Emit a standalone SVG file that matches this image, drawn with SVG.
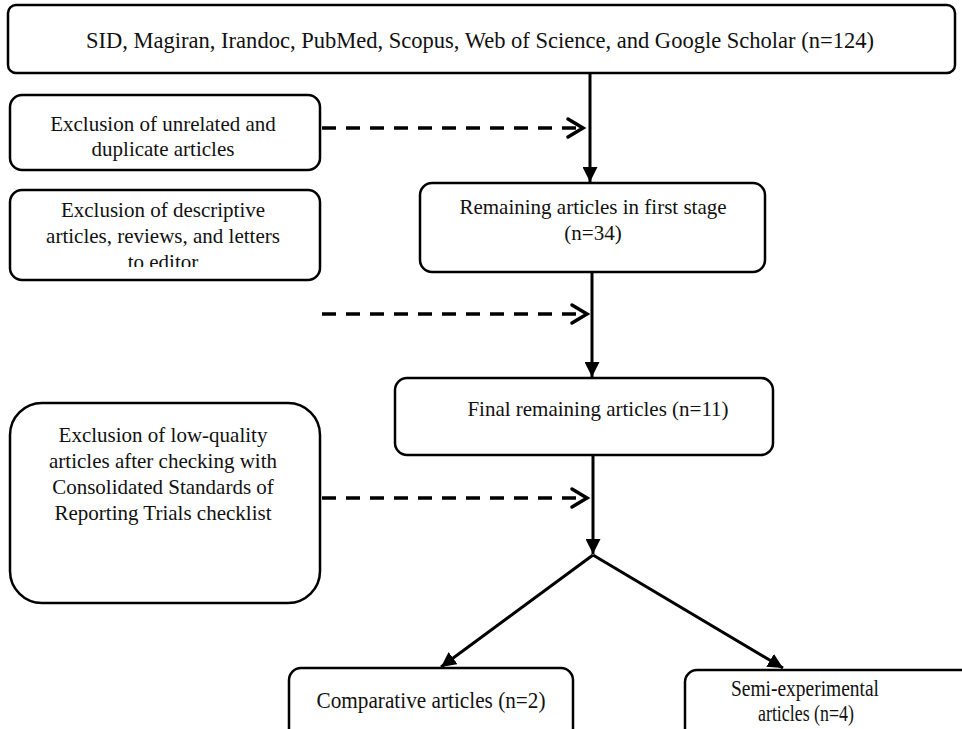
<svg xmlns="http://www.w3.org/2000/svg" width="962" height="729" viewBox="0 0 962 729">
<style>
  .box { fill: #fff; stroke: #000; stroke-width: 2.5; }
  .t { font-family: "Liberation Serif", "DejaVu Serif", serif; font-size: 21px; fill: #111; text-anchor: middle; }
  .c { font-size: 24px; }
  .solid { stroke: #000; stroke-width: 3; fill: none; }
  .dash { stroke: #000; stroke-width: 3.5; fill: none; stroke-dasharray: 14 10; }
  .chev { stroke: #000; stroke-width: 3.5; fill: none; stroke-linecap: round; stroke-linejoin: miter; }
</style>
<defs>
  <marker id="tri" viewBox="0 0 10 10" refX="10" refY="5" markerWidth="5" markerHeight="5" markerUnits="strokeWidth" orient="auto">
    <path d="M0,0 L10,5 L0,10 Z" fill="#000"/>
  </marker>
  <clipPath id="clipExcl2">
    <rect x="10" y="190" width="310" height="77"/>
  </clipPath>
</defs>
<rect width="962" height="729" fill="#fff"/>

<g id="connectors">
  <line class="solid" x1="590" y1="73" x2="590" y2="182" marker-end="url(#tri)"/>
  <line class="solid" x1="592" y1="272" x2="592" y2="377" marker-end="url(#tri)"/>
  <line class="solid" x1="593" y1="455" x2="593" y2="554" marker-end="url(#tri)"/>
  <line class="solid" x1="593" y1="555" x2="441" y2="667" marker-end="url(#tri)"/>
  <line class="solid" x1="593" y1="555" x2="783" y2="668" marker-end="url(#tri)"/>
  <line class="dash" x1="322" y1="128" x2="576" y2="128"/>
  <polyline class="chev" points="568,119 583,128 568,137"/>
  <line class="dash" x1="322" y1="314" x2="581" y2="314"/>
  <polyline class="chev" points="572,305 587,314 572,323"/>
  <line class="dash" x1="322" y1="498" x2="581" y2="498"/>
  <polyline class="chev" points="572,489 587,498 572,507"/>
</g>

<g id="n-sources">
  <rect class="box" x="8" y="5" width="947" height="68" rx="8"/>
  <text class="t c" x="480" y="48" textLength="788" lengthAdjust="spacingAndGlyphs">SID, Magiran, Irandoc, PubMed, Scopus, Web of Science, and Google Scholar (n=124)</text>
</g>

<g id="n-excl1">
  <rect class="box" x="10" y="95" width="310" height="75" rx="12"/>
  <text class="t" x="163" y="131">Exclusion of unrelated and</text>
  <text class="t" x="163" y="156">duplicate articles</text>
</g>

<g id="n-remaining1">
  <rect class="box" x="420" y="183" width="345" height="89" rx="12"/>
  <text class="t" x="593" y="214">Remaining articles in first stage</text>
  <text class="t" x="593" y="240">(n=34)</text>
</g>

<g id="n-excl2">
  <rect class="box" x="10" y="190" width="310" height="90" rx="12"/>
  <g clip-path="url(#clipExcl2)">
    <text class="t" x="163" y="217">Exclusion of descriptive</text>
    <text class="t" x="163" y="243">articles, reviews, and letters</text>
    <text class="t" x="163" y="269">to editor</text>
  </g>
</g>

<g id="n-final">
  <rect class="box" x="395" y="378" width="378" height="77" rx="12"/>
  <text class="t" x="598" y="416">Final remaining articles (n=11)</text>
</g>

<g id="n-excl3">
  <rect class="box" x="10" y="403" width="310" height="200" rx="32"/>
  <text class="t" x="163" y="442">Exclusion of low-quality</text>
  <text class="t" x="163" y="468">articles after checking with</text>
  <text class="t" x="163" y="494">Consolidated Standards of</text>
  <text class="t" x="163" y="520">Reporting Trials checklist</text>
</g>

<g id="n-comparative">
  <rect class="box" x="289" y="668" width="284" height="80" rx="12"/>
  <text class="t c" x="431" y="708" textLength="229" lengthAdjust="spacingAndGlyphs">Comparative articles (n=2)</text>
</g>

<g id="n-semi">
  <rect class="box" x="685" y="670" width="290" height="80" rx="12"/>
  <text class="t c" x="805" y="696" textLength="148" lengthAdjust="spacingAndGlyphs">Semi-experimental</text>
  <text class="t c" x="806" y="721" textLength="96" lengthAdjust="spacingAndGlyphs">articles (n=4)</text>
</g>
</svg>
